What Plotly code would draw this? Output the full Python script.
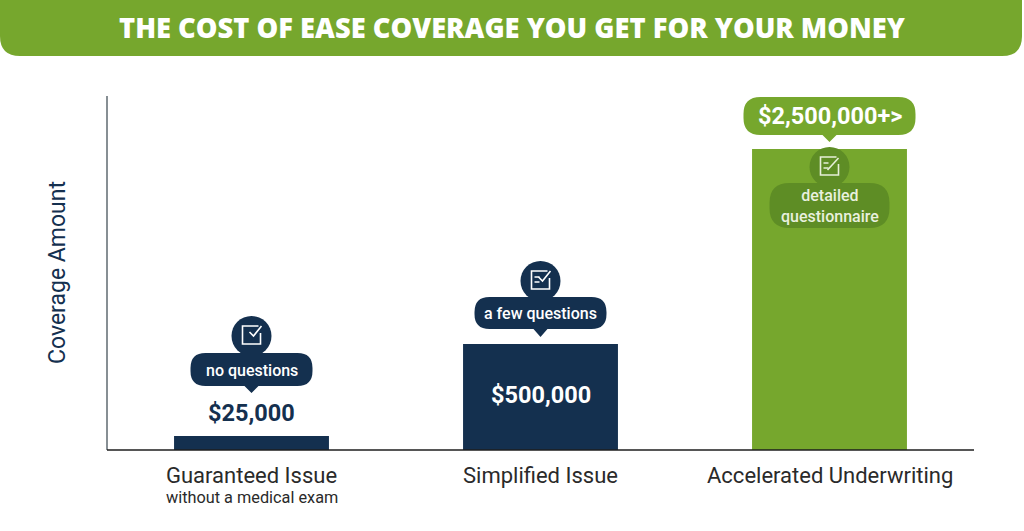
import plotly.graph_objects as go

# ---- data ----
categories = ["Guaranteed Issue", "Simplified Issue", "Accelerated Underwriting"]
subtitles = ["without a medical exam", "", ""]
coverage_labels = ["$25,000", "$500,000", "$2,500,000+>"]
question_labels = ["no questions", "a few questions", "detailed<br>questionnaire"]
bar_heights = [14, 106, 301]   # drawn height (not to scale in the original)

NAVY = "#14304f"
GREEN = "#76a72d"
DKGREEN = "#5e8d25"
W, H = 1024, 531
L, R, T, B = 107, 50, 96, 81
PW, PH = W - L - R, H - T - B
YMAX = PH

def px_x(xv):  # data x -> pixel
    return L + (xv + 0.5) / 3 * PW
def px_y(yv):
    return H - B - yv / YMAX * PH
def pap_x(p):
    return (p - L) / PW
def pap_y(p):
    return (H - B - p) / PH

def rrect(x0, x1, y0, y1, r, tail=None):
    def P(x, y):
        return f"{pap_x(x):.5f},{pap_y(y):.5f}"
    d = f"M {P(x0+r, y0)} L {P(x1-r, y0)} Q {P(x1, y0)} {P(x1, y0+r)} L {P(x1, y1-r)} Q {P(x1, y1)} {P(x1-r, y1)} "
    if tail:
        cx, ty = tail
        d += f"L {P(cx+7, y1)} L {P(cx, ty)} L {P(cx-7, y1)} "
    d += f"L {P(x0+r, y1)} Q {P(x0, y1)} {P(x0, y1-r)} L {P(x0, y0+r)} Q {P(x0, y0)} {P(x0+r, y0)} Z"
    return d

fig = go.Figure()
fig.add_trace(go.Bar(
    x=list(range(len(categories))), y=bar_heights, width=0.536,
    marker=dict(color=[NAVY, NAVY, GREEN], line=dict(width=0)),
    hoverinfo="skip",
))

shapes = []
annotations = []

def circle(cx, cy, r, color):
    shapes.append(dict(type="circle", xref="paper", yref="paper",
                       x0=pap_x(cx - r), x1=pap_x(cx + r), y0=pap_y(cy + r), y1=pap_y(cy - r),
                       fillcolor=color, line=dict(width=0), layer="above"))

def bubble(cx, y0, y1, w, color, tip, r=14):
    shapes.append(dict(type="path", xref="paper", yref="paper",
                       path=rrect(cx - w / 2, cx + w / 2, y0, y1, r, (cx, tip) if tip else None),
                       fillcolor=color, line=dict(width=0), layer="above"))

def text(cx, cy, s, size, color, weight=500, family="Roboto"):
    annotations.append(dict(xref="paper", yref="paper", x=pap_x(cx), y=pap_y(cy), text=s,
                            showarrow=False, xanchor="center", yanchor="middle",
                            font=dict(size=size, color=color, family=family, weight=weight)))

def icon(cx, cy, color, lines=0, pen=False):
    s = 9
    def P(x, y):
        return f"{pap_x(x):.5f},{pap_y(y):.5f}"
    d = f"M {P(cx+s-2, cy-s)} L {P(cx-s, cy-s)} L {P(cx-s, cy+s)} L {P(cx+s, cy+s)} L {P(cx+s, cy-2)}"
    shapes.append(dict(type="path", xref="paper", yref="paper", path=d,
                       line=dict(color=color, width=1.6), layer="above"))
    if pen:
        ck = f"M {P(cx-2, cy+4)} L {P(cx+9, cy-8)}"
    else:
        ck = f"M {P(cx-2, cy-3)} L {P(cx+2, cy+1)} L {P(cx+10, cy-9)}"
    shapes.append(dict(type="path", xref="paper", yref="paper", path=ck,
                       line=dict(color=color, width=1.6), layer="above"))
    for k in range(lines):
        yy = cy - 3 + k * 5
        shapes.append(dict(type="line", xref="paper", yref="paper",
                           x0=pap_x(cx - 6), x1=pap_x(cx - 1), y0=pap_y(yy), y1=pap_y(yy),
                           line=dict(color=color, width=1.5), layer="above"))

# bar 1
cx = px_x(0); top = px_y(bar_heights[0])
circle(cx, top - 100, 20, NAVY)
bubble(cx, top - 83, top - 50, 122, NAVY, top - 43, r=15)
icon(cx, top - 101, "white")
text(cx, top - 66, question_labels[0], 16, "white", weight=500)
text(cx, top - 23, coverage_labels[0], 23.5, NAVY, weight=700)

# bar 2
cx = px_x(1); top = px_y(bar_heights[1])
circle(cx, top - 63, 20, NAVY)
bubble(cx, top - 47, top - 15, 132, NAVY, top - 7, r=15)
icon(cx, top - 64, "white", lines=2)
text(cx, top - 31, question_labels[1], 16, "white", weight=500)
text(cx, top + 51, coverage_labels[1], 23.5, "white", weight=700)

# bar 3
cx = px_x(2); top = px_y(bar_heights[2])
bubble(cx, top - 52, top - 14, 172, GREEN, top - 7, r=17)
text(cx, top - 33, coverage_labels[2], 23.5, "white", weight=700)
circle(cx, top + 18, 20, DKGREEN)
bubble(cx, top + 34, top + 79, 120, DKGREEN, None, r=20)
icon(cx, top + 17, "#e6efd8", lines=2, pen=True)
text(cx, top + 57, question_labels[2], 16, "#e9f0df", weight=500)

# x tick labels
for i, c in enumerate(categories):
    text(px_x(i), 475, c, 22, "#2a2a2a", weight=400)
    if subtitles[i]:
        text(px_x(i), 497, subtitles[i], 16.3, "#2a2a2a", weight=400)

# axis label
annotations.append(dict(xref="paper", yref="paper", x=pap_x(57), y=pap_y(273), text="Coverage Amount",
                        showarrow=False, textangle=-90, xanchor="center", yanchor="middle",
                        font=dict(size=23, color=NAVY, family="Roboto", weight=400)))

# axes lines
shapes.append(dict(type="line", xref="paper", yref="paper", x0=0, x1=0, y0=0, y1=pap_y(96),
                   line=dict(color="#5f6a70", width=1.5)))
shapes.append(dict(type="line", xref="paper", yref="paper", x0=0, x1=pap_x(974), y0=0, y1=0,
                   line=dict(color="#1e1e1e", width=1.5)))

# title banner
def P(x, y):
    return f"{pap_x(x):.5f},{pap_y(y):.5f}"
rb = 20
banner = (f"M {P(0, -5)} L {P(1022, -5)} L {P(1022, 56-rb)} Q {P(1022, 56)} {P(1022-rb, 56)} "
          f"L {P(rb, 56)} Q {P(0, 56)} {P(0, 56-rb)} Z")
shapes.append(dict(type="path", xref="paper", yref="paper", path=banner,
                   fillcolor=GREEN, line=dict(width=0)))
annotations.append(dict(xref="paper", yref="paper", x=pap_x(512), y=pap_y(27),
                        text="THE COST OF EASE COVERAGE YOU GET FOR YOUR MONEY", showarrow=False,
                        xanchor="center", yanchor="middle",
                        font=dict(size=27.3, color="white", family="Open Sans", weight=800)))

fig.update_layout(
    width=W, height=H, margin=dict(l=L, r=R, t=T, b=B),
    paper_bgcolor="white", plot_bgcolor="white", showlegend=False,
    xaxis=dict(range=[-0.5, 2.5], visible=False, fixedrange=True),
    yaxis=dict(range=[0, YMAX], visible=False, fixedrange=True),
    shapes=shapes, annotations=annotations,
)
fig.write_html("out.html", config={"displayModeBar": False},
               post_script="document.body.style.margin='0';document.body.style.overflow='hidden';")
